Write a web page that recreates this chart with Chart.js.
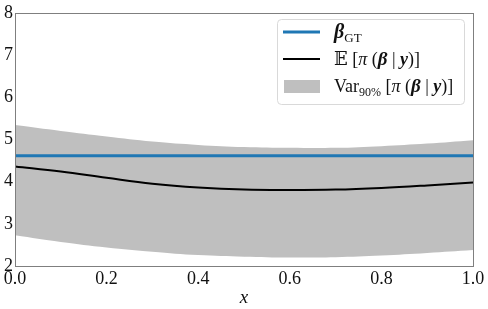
<!DOCTYPE html>
<html>
<head>
<meta charset="utf-8">
<script src="https://cdn.jsdelivr.net/npm/chart.js@4"></script>
<style>
  html, body { margin: 0; padding: 0; background: #fff; }
  #wrap { width: 488px; height: 309px; }
</style>
</head>
<body>
<div id="wrap"><canvas id="myChart" width="488" height="309"></canvas></div>
<script>
// values
var xs = [0.0, 0.1, 0.2, 0.3, 0.4, 0.5, 0.6, 0.7, 0.8, 0.9, 1.0];
var betaGT = [4.61, 4.61, 4.61, 4.61, 4.61, 4.61, 4.61, 4.61, 4.61, 4.61, 4.61];
var meanVals = [4.36, 4.24, 4.09, 3.95, 3.86, 3.81, 3.80, 3.81, 3.85, 3.91, 3.98];
var upperVals = [5.34, 5.20, 5.07, 4.95, 4.87, 4.82, 4.80, 4.80, 4.84, 4.90, 4.98];
var lowerVals = [2.73, 2.57, 2.44, 2.34, 2.26, 2.22, 2.20, 2.21, 2.25, 2.31, 2.38];
var xTicks = [0.0, 0.2, 0.4, 0.6, 0.8, 1.0];
var yTicks = [2, 3, 4, 5, 6, 7, 8];

function pts(ys) {
    return xs.map(function (x, i) { return { x: x, y: ys[i] }; });
}

var serif = '"Liberation Serif", "DejaVu Serif", serif';

// legend entries as rich text runs
var legendRows = [
    { kind: 'line', color: '#1f77b4', width: 3, runs: [
        { t: 'β', f: 'bold italic 20px ' + serif },
        { t: 'GT', f: '13px ' + serif, dy: 4 }
    ]},
    { kind: 'line', color: '#000000', width: 2, runs: [
        { t: '𝔼', f: '18px "DejaVu Serif", serif' },
        { t: ' [', f: '18px ' + serif },
        { t: 'π', f: 'italic 18px ' + serif },
        { t: ' (', f: '18px ' + serif },
        { t: 'β', f: 'bold italic 19px ' + serif },
        { t: ' | ', f: '18px ' + serif },
        { t: 'y', f: 'bold italic 18px ' + serif },
        { t: ')]', f: '18px ' + serif }
    ]},
    { kind: 'patch', color: '#bfbfbf', runs: [
        { t: 'Var', f: '18px ' + serif },
        { t: '90%', f: '12px ' + serif, dy: 4 },
        { t: ' [', f: '18px ' + serif },
        { t: 'π', f: 'italic 18px ' + serif },
        { t: ' (', f: '18px ' + serif },
        { t: 'β', f: 'bold italic 19px ' + serif },
        { t: ' | ', f: '18px ' + serif },
        { t: 'y', f: 'bold italic 18px ' + serif },
        { t: ')]', f: '18px ' + serif }
    ]}
];

var framePlugin = {
    id: 'frame',
    afterDatasetsDraw: function (chart) {
        var a = chart.chartArea;
        var c = chart.ctx;
        c.save();
        c.strokeStyle = '#7f7f7f';
        c.lineWidth = 1;
        c.strokeRect(Math.round(a.left) + 0.5, Math.round(a.top) + 0.5,
            Math.round(a.right - a.left), Math.round(a.bottom - a.top));
        c.restore();
    }
};

var legendPlugin = {
    id: 'richLegend',
    afterDraw: function (chart) {
        var c = chart.ctx;
        var bx = 277, by = 19, bw = 187, bh = 85;
        c.save();
        c.beginPath();
        c.roundRect(bx + 0.5, by + 0.5, bw, bh, 4);
        c.fillStyle = 'rgba(255,255,255,0.8)';
        c.fill();
        c.strokeStyle = '#d9d9d9';
        c.lineWidth = 1;
        c.stroke();
        legendRows.forEach(function (row, i) {
            var cy = 32 + i * 27;
            if (row.kind === 'line') {
                c.strokeStyle = row.color;
                c.lineWidth = row.width;
                c.beginPath();
                c.moveTo(283, cy);
                c.lineTo(320, cy);
                c.stroke();
            } else {
                c.fillStyle = row.color;
                c.fillRect(284, cy - 6, 36, 13);
            }
            var x = 334;
            c.fillStyle = '#111';
            c.textBaseline = 'alphabetic';
            row.runs.forEach(function (r) {
                c.font = r.f;
                c.fillText(r.t, x, cy + 6 + (r.dy || 0));
                x += c.measureText(r.t).width;
            });
        });
        c.restore();
    }
};

var ctx = document.getElementById('myChart').getContext('2d');
var myChart = new Chart(ctx, {
    type: 'line',
    data: {
        datasets: [
            {
                label: 'upper',
                data: pts(upperVals),
                borderWidth: 0,
                borderColor: 'rgba(0,0,0,0)',
                backgroundColor: '#bfbfbf',
                pointRadius: 0,
                tension: 0.4,
                fill: '+1',
                order: 3
            },
            {
                label: 'lower',
                data: pts(lowerVals),
                borderWidth: 0,
                borderColor: 'rgba(0,0,0,0)',
                backgroundColor: '#bfbfbf',
                pointRadius: 0,
                tension: 0.4,
                fill: false,
                order: 3
            },
            {
                label: 'mean',
                data: pts(meanVals),
                borderColor: '#000000',
                borderWidth: 2,
                pointRadius: 0,
                tension: 0.4,
                fill: false,
                order: 2
            },
            {
                label: 'beta GT',
                data: pts(betaGT),
                borderColor: '#1f77b4',
                borderWidth: 3,
                pointRadius: 0,
                fill: false,
                order: 1
            }
        ]
    },
    options: {
        responsive: false,
        animation: false,
        layout: { padding: { top: 10, right: 15, left: 0, bottom: 0 } },
        plugins: {
            legend: { display: false },
            tooltip: { enabled: false }
        },
        scales: {
            x: {
                type: 'linear',
                min: 0,
                max: 1,
                grid: { display: false, drawTicks: false },
                border: { display: false },
                afterBuildTicks: function (s) {
                    s.ticks = xTicks.map(function (v) { return { value: v }; });
                },
                afterFit: function (s) { s.height = 43; },
                ticks: {
                    padding: 2,
                    color: '#111',
                    maxRotation: 0,
                    autoSkip: false,
                    font: { family: serif, size: 18 },
                    callback: function (v) { return v.toFixed(1); }
                },
                title: {
                    display: true,
                    text: 'x',
                    color: '#111',
                    padding: { top: 0, bottom: 0 },
                    font: { family: serif, size: 19, style: 'italic' }
                }
            },
            y: {
                min: 2,
                max: 8,
                grid: { display: false, drawTicks: false },
                border: { display: false },
                afterBuildTicks: function (s) {
                    s.ticks = yTicks.map(function (v) { return { value: v }; });
                },
                afterFit: function (s) { s.width = 15; },
                ticks: {
                    padding: 2,
                    color: '#111',
                    font: { family: serif, size: 18 }
                }
            }
        }
    },
    plugins: [framePlugin, legendPlugin]
});
</script>
</body>
</html>
